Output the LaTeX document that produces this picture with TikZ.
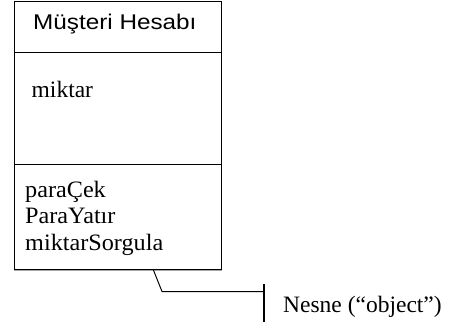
\documentclass[tikz,border=0pt]{standalone}
\usepackage{fontspec}
\setmainfont{Liberation Serif}
\newfontfamily\titlefont{Liberation Sans}[FakeStretch=1.14]
\newfontfamily\opfont{Liberation Serif}[FakeStretch=1.03]
\begin{document}
\begin{tikzpicture}[x=1pt,y=-1pt,
  frame/.style={draw=black,line width=1pt},
  txt/.style={inner sep=0pt,anchor=base west,font=\fontsize{23.5}{26}\selectfont},
  optxt/.style={txt,font=\opfont\fontsize{23.5}{26}\selectfont},
  ttl/.style={inner sep=0pt,anchor=base west,font=\titlefont\fontsize{21.3}{24}\selectfont},
  leader/.style={draw=black,line width=1pt}]
\useasboundingbox (0,0) rectangle (450,322);
% class box with its three compartments
\node[frame,minimum width=207pt,minimum height=268.5pt,inner sep=0pt,anchor=north west] (cls) at (13.5,0.5) {};
\draw[frame] (13.5,52.5) -- (220.5,52.5);
\draw[frame] (13.5,164.5) -- (220.5,164.5);
\draw[draw=gray!70,line width=1pt] (cls.south west) -- (cls.south east);
% texts
\node[ttl] (name) at (33,29) {Müşteri Hesabı};
\node[txt] (attr) at (31.5,97) {miktar};
\node[optxt] (op1) at (25,197) {paraÇek};
\node[optxt] (op2) at (25,223.5) {ParaYatır};
\node[optxt] (op3) at (25,250) {miktarSorgula};
% callout
\coordinate (c0) at (153,269);
\coordinate (c1) at (162,291.5);
\coordinate (c2) at (264,291.5);
\coordinate (bt) at (264,284);
\coordinate (bb) at (264,322);
\draw[leader] (c0) -- (c1) -- (c2);
\draw[draw=black,line width=1.6pt] (bt) -- (bb);
\node[txt] (lbl) at (283,312.5) {Nesne (“object”)};
\end{tikzpicture}
\end{document}
